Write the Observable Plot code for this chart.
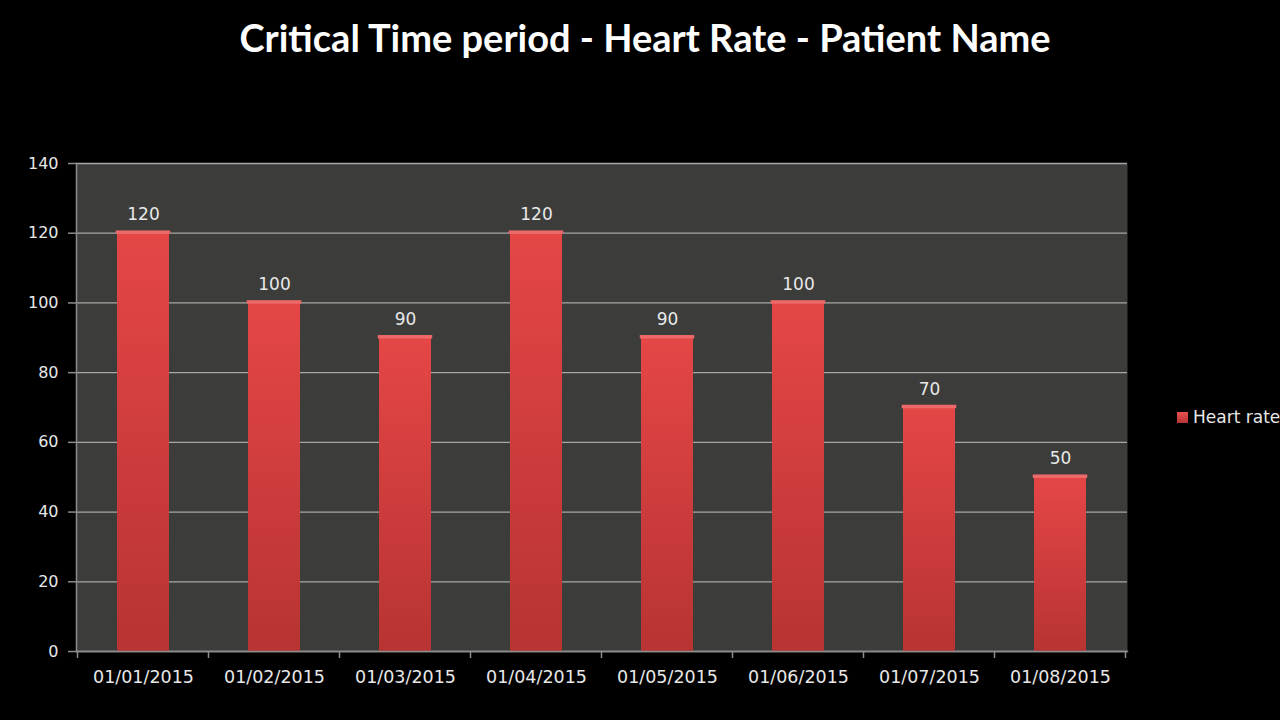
<!DOCTYPE html>
<html>
<head>
<meta charset="utf-8">
<script src="https://cdn.jsdelivr.net/npm/d3@7"></script>
<script src="https://cdn.jsdelivr.net/npm/@observablehq/plot@0.6"></script>
<style>
  html, body { margin: 0; padding: 0; background: #000; width: 1280px; height: 720px; overflow: hidden; }
  #title { height: 80px; width: 1280px; text-align: center; color: #fff; font-family: Lato, "Open Sans", sans-serif; font-weight: bold; font-size: 38px; line-height: 74px; padding-left: 10px; box-sizing: border-box; }
  #wrap { position: relative; width: 1280px; height: 640px; }
  #legend { position: absolute; left: 1177px; top: 327px; color: #e8e8e8; font-family: "DejaVu Sans", sans-serif; font-size: 17px; display: flex; align-items: center; white-space: nowrap; }
  #legend .sw { width: 11px; height: 11px; background: linear-gradient(#e85050, #b83434); margin-right: 5px; }
</style>
</head>
<body>
<div id="title">Critical Time period - Heart Rate - Patient Name</div>
<div id="wrap"></div>
<script>
const dates = ["01/01/2015","01/02/2015","01/03/2015","01/04/2015","01/05/2015","01/06/2015","01/07/2015","01/08/2015"];
const heartRate = [120, 100, 90, 120, 90, 100, 70, 50];
const yTicks = [0, 20, 40, 60, 80, 100, 120, 140];
const seriesName = "Heart rate";

const data = dates.map((d, i) => ({date: d, value: heartRate[i]}));

const boundaryTicks = (index, scales, values, dims) => {
  const g = d3.create("svg:g");
  const x = scales.x;
  const step = x.step();
  const y0 = dims.height - dims.marginBottom;
  const pos = dates.map(d => x(d) + x.bandwidth() / 2 - step / 2);
  pos.push(pos[pos.length - 1] + step);
  for (const p of pos) {
    g.append("line").attr("x1", p).attr("x2", p).attr("y1", y0).attr("y2", y0 + 7)
      .attr("stroke", "#8c8c8c").attr("stroke-width", 1.5);
  }
  return g.node();
};

const chart = Plot.plot({
  width: 1280,
  height: 640,
  marginTop: 83,
  marginBottom: 69,
  marginLeft: 76,
  marginRight: 153,
  style: { background: "#000", color: "#e8e8e8", fontFamily: "'DejaVu Sans', sans-serif", fontSize: "15px" },
  x: { domain: dates, padding: 0.6, paddingOuter: 0.3, label: null },
  y: { domain: [0, 140], label: null },
  marks: [
    Plot.frame({ fill: "#3c3d3b", stroke: null }),
    Plot.gridY(yTicks, { stroke: "#a6a6a6", strokeOpacity: 1, strokeWidth: 1.3 }),
    Plot.barY(data, { x: "date", y: "value", fill: "url(#barGrad)" }),
    Plot.barY(data, { x: "date", y1: d => d.value, y2: d => d.value, insetTop: -1, stroke: "#ee6a6a", strokeWidth: 2.5 }),
    Plot.text(data, { x: "date", y: "value", text: d => String(d.value), lineAnchor: "bottom", dy: -13, fill: "#e8e8e8", fontSize: 17 }),
    Plot.axisY(yTicks, { tickSize: 8, tickPadding: 10, stroke: "#8c8c8c", strokeWidth: 1.5, fill: "#e8e8e8", fontSize: 16, label: null }),
    Plot.axisX({ tickSize: 0, tickPadding: 19, fill: "#e8e8e8", fontSize: 17.5, label: null }),
    Plot.frame({ anchor: "left", stroke: "#8c8c8c", strokeWidth: 1.5 }),
    Plot.frame({ anchor: "bottom", stroke: "#8c8c8c", strokeWidth: 1.5 }),
    boundaryTicks
  ]
});

const svg = d3.select(chart);
const defs = svg.insert("defs", ":first-child");
const grad = defs.append("linearGradient").attr("id", "barGrad").attr("x1", 0).attr("x2", 0).attr("y1", 0).attr("y2", 1);
grad.append("stop").attr("offset", "0%").attr("stop-color", "#e54646");
grad.append("stop").attr("offset", "100%").attr("stop-color", "#b83333");

document.getElementById("wrap").appendChild(chart);

const legend = document.createElement("div");
legend.id = "legend";
legend.innerHTML = `<span class="sw"></span><span>${seriesName}</span>`;
document.getElementById("wrap").appendChild(legend);
</script>
</body>
</html>
